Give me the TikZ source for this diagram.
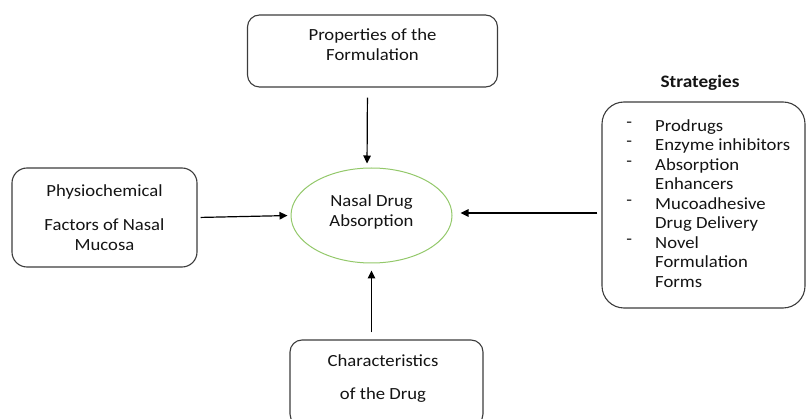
\documentclass[tikz,border=0pt]{standalone}
\usepackage{fontspec}
\setmainfont{Carlito}[FakeStretch=1.1]
\usetikzlibrary{arrows.meta,positioning,calc,shapes.geometric}
\usepackage{xcolor}
\definecolor{Ink}{HTML}{141414}
\definecolor{Frame}{HTML}{3C3C3C}
\definecolor{Leaf}{HTML}{93C86A}
\newcommand{\itemdash}{\llap{\raisebox{4pt}{-}\hspace{23pt}}}
\tikzset{
 box/.style={draw=Frame, line width=1.1pt, rounded corners=12pt, fill=white, align=center, inner sep=0pt, font=\fontsize{17}{20}\selectfont, text=Ink},
 txt/.style={align=center, inner sep=0pt, font=\fontsize{17}{20}\selectfont, text=Ink},
 headtxt/.style={inner sep=0pt, font=\fontsize{17.5}{20}\selectfont\bfseries, text=Ink},
 listtxt/.style={align=left, inner sep=0pt, font=\fontsize{17}{19.5}\selectfont, text=Ink},
 arrow/.style={-{Triangle[length=8pt,width=7.5pt]}, line width=1.2pt, draw=black}
}

\begin{document}
\begin{tikzpicture}[x=1pt,y=-1pt]
\useasboundingbox (0,0) rectangle (806,419);
\clip (0,0) rectangle (806,419);
% boxes
\node[box,minimum width=250pt,minimum height=72pt] (prop) at (372.5,51) {};
\node[txt] (propt) at ([yshift=6pt]prop.center) {Properties of the\\Formulation};
\node[box,minimum width=185pt,minimum height=99pt,rounded corners=15pt] (phys) at (104.5,217.5) {Physiochemical\\[14pt]Factors of Nasal\\Mucosa};
\node[ellipse,draw=Leaf,line width=1pt,minimum width=161pt,minimum height=95pt,inner sep=0pt] (absorb) at (371.5,215.5) {};
\node[txt] (absorbt) at ([yshift=4pt]absorb.center) {Nasal Drug\\Absorption};
\node[box,minimum width=203pt,minimum height=206pt,rounded corners=22pt] (strat) at (703.5,205) {};
\node[headtxt] (stratt) at (700,83) {Strategies};
\node[listtxt,anchor=north west] (stratlist) at (655,119) {\itemdash Prodrugs\\\itemdash Enzyme inhibitors\\\itemdash Absorption\\Enhancers\\\itemdash Mucoadhesive\\Drug Delivery\\\itemdash Novel\\Formulation\\Forms};
\node[box,minimum width=193pt,minimum height=86pt] (drug) at (386.5,383) {};
\node[txt] (drugt) at (383,378.5) {Characteristics\\[13pt]of the Drug};
% arrows into the centre
\draw[arrow,shorten <=10pt,shorten >=4pt] ([xshift=-5pt]prop.south) -- ([xshift=-4.5pt]absorb.north);
\draw[arrow,shorten <=3pt,shorten >=3pt] (phys.east) -- (absorb.west);
\draw[arrow,shorten <=4pt,shorten >=8pt] ([yshift=-8pt]strat.west) -- ([yshift=2.5pt]absorb.east);
\draw[arrow,shorten <=7pt,shorten >=7pt] ([xshift=-15pt]drug.north) -- (absorb.south);
\end{tikzpicture}
\end{document}
